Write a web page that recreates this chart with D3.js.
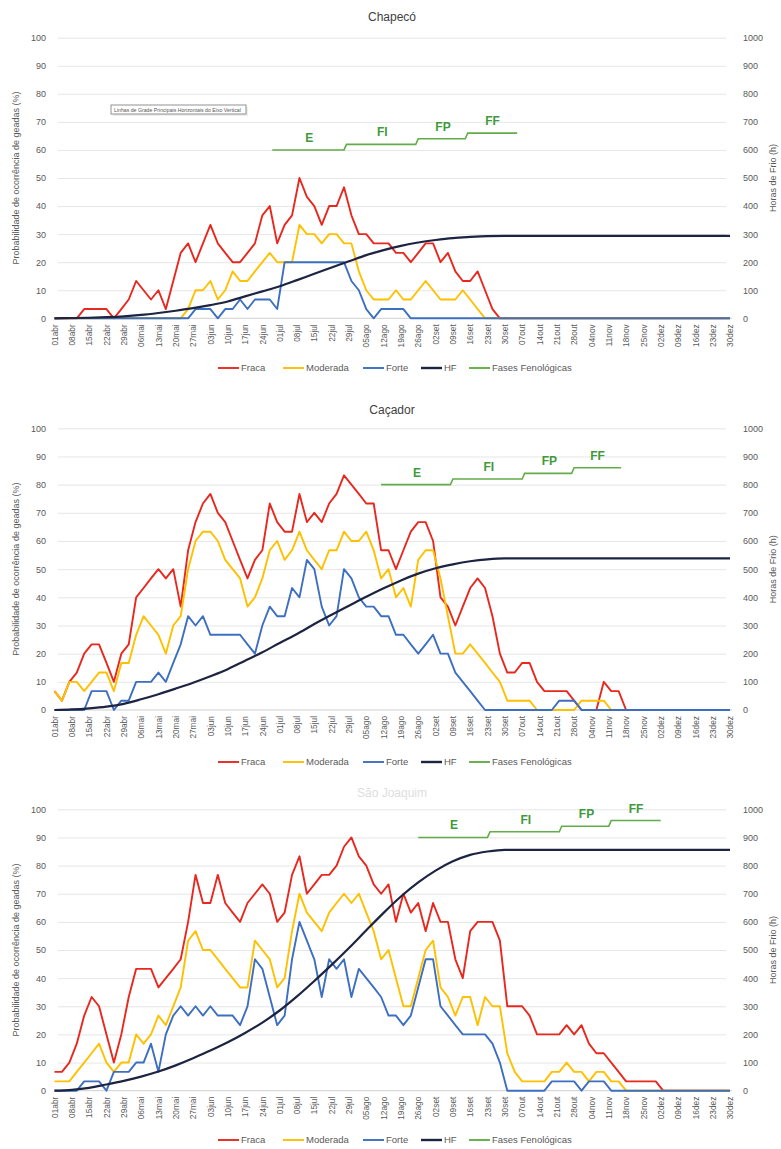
<!DOCTYPE html>
<html><head><meta charset="utf-8">
<script src="https://cdn.jsdelivr.net/npm/d3@7"></script>
<style>body{margin:0;background:#fff;} svg{display:block;font-family:"Liberation Sans",Arial,sans-serif;}</style>
</head><body><svg id="c" width="781" height="1149"></svg>
<script>
// ---------- DATA ----------
const dayLabels = ["01abr","08abr","15abr","22abr","29abr","06mai","13mai","20mai","27mai","03jun","10jun","17jun","24jun","01jul","08jul","15jul","22jul","29jul","05ago","12ago","19ago","26ago","02set","09set","16set","23set","30set","07out","14out","21out","28out","04nov","11nov","18nov","25nov","02dez","09dez","16dez","23dez","30dez"];
const seriesNames = ["Fraca","Moderada","Forte","HF","Fases Fenológicas"];
const phaseLabels = ["E","FI","FP","FF"];
// probabilities (%) sampled every 3 days from 01abr (92 points)
const chapecoFraca = [0,0,0,0,3.3,3.3,3.3,3.3,0,3.3,6.7,13.3,10,6.7,10,3.3,13.3,23.3,26.7,20,26.7,33.3,26.7,23.3,20,20,23.3,26.7,36.7,40,26.7,33.3,36.7,50,43.3,40,33.3,40,40,46.7,36.7,30,30,26.7,26.7,26.7,23.3,23.3,20,23.3,26.7,26.7,20,23.3,16.7,13.3,13.3,16.7,10,3.3,0,0,0,0,0,0,0,0,0,0,0,0,0,0,0,0,0,0,0,0,0,0,0,0,0,0,0,0,0,0,0,0];
const chapecoModerada = [0,0,0,0,0,0,0,0,0,0,0,0,0,0,0,0,0,0,3.3,10,10,13.3,6.7,10,16.7,13.3,13.3,16.7,20,23.3,20,20,20,33.3,30,30,26.7,30,30,26.7,26.7,16.7,10,6.7,6.7,6.7,10,6.7,6.7,10,13.3,10,6.7,6.7,6.7,10,6.7,3.3,0,0,0,0,0,0,0,0,0,0,0,0,0,0,0,0,0,0,0,0,0,0,0,0,0,0,0,0,0,0,0,0,0,0];
const chapecoForte = [0,0,0,0,0,0,0,0,0,0,0,0,0,0,0,0,0,0,0,3.3,3.3,3.3,0,3.3,3.3,6.7,3.3,6.7,6.7,6.7,3.3,20,20,20,20,20,20,20,20,20,13.3,10,3.3,0,3.3,3.3,3.3,3.3,0,0,0,0,0,0,0,0,0,0,0,0,0,0,0,0,0,0,0,0,0,0,0,0,0,0,0,0,0,0,0,0,0,0,0,0,0,0,0,0,0,0,0,0];
const cacadorFraca = [6.7,3.3,10,13.3,20,23.3,23.3,16.7,10,20,23.3,40,43.3,46.7,50,46.7,50,36.7,56.7,66.7,73.3,76.7,70,66.7,60,53.3,46.7,53.3,56.7,73.3,66.7,63.3,63.3,76.7,66.7,70,66.7,73.3,76.7,83.3,80,76.7,73.3,73.3,56.7,56.7,50,56.7,63.3,66.7,66.7,60,40,36.7,30,36.7,43.3,46.7,43.3,33.3,20,13.3,13.3,16.7,16.7,10,6.7,6.7,6.7,6.7,3.3,0,0,0,10,6.7,6.7,0,0,0,0,0,0,0,0,0,0,0,0,0,0,0];
const cacadorModerada = [6.7,3.3,10,10,6.7,10,13.3,13.3,6.7,16.7,16.7,26.7,33.3,30,26.7,20,30,33.3,50,60,63.3,63.3,60,53.3,50,46.7,36.7,40,46.7,56.7,60,53.3,56.7,63.3,56.7,53.3,50,56.7,56.7,63.3,60,60,63.3,56.7,46.7,50,40,43.3,36.7,53.3,56.7,56.7,46.7,33.3,20,20,23.3,20,16.7,13.3,10,3.3,3.3,3.3,3.3,0,0,0,0,0,0,3.3,3.3,3.3,3.3,0,0,0,0,0,0,0,0,0,0,0,0,0,0,0,0,0];
const cacadorForte = [0,0,0,0,0,6.7,6.7,6.7,0,3.3,3.3,10,10,10,13.3,10,16.7,23.3,33.3,30,33.3,26.7,26.7,26.7,26.7,26.7,23.3,20,30,36.7,33.3,33.3,43.3,40,53.3,50,36.7,30,33.3,50,46.7,40,36.7,36.7,33.3,33.3,26.7,26.7,23.3,20,23.3,26.7,20,20,13.3,10,6.7,3.3,0,0,0,0,0,0,0,0,0,0,3.3,3.3,3.3,0,0,0,0,0,0,0,0,0,0,0,0,0,0,0,0,0,0,0,0,0];
const joaquimFraca = [6.7,6.7,10,16.7,26.7,33.3,30,20,10,20,33.3,43.3,43.3,43.3,36.7,40,43.3,46.7,60,76.7,66.7,66.7,76.7,66.7,63.3,60,66.7,70,73.3,70,60,63.3,76.7,83.3,70,73.3,76.7,76.7,80,86.7,90,83.3,80,73.3,70,73.3,60,70,63.3,66.7,56.7,66.7,60,60,46.7,40,56.7,60,60,60,53.3,30,30,30,26.7,20,20,20,20,23.3,20,23.3,16.7,13.3,13.3,10,6.7,3.3,3.3,3.3,3.3,3.3,0,0,0,0,0,0,0,0,0,0];
const joaquimModerada = [3.3,3.3,3.3,6.7,10,13.3,16.7,10,6.7,10,10,20,16.7,20,26.7,23.3,30,36.7,53.3,56.7,50,50,46.7,43.3,40,36.7,36.7,53.3,50,46.7,36.7,40,56.7,70,63.3,60,56.7,63.3,66.7,70,66.7,70,63.3,56.7,46.7,50,40,30,30,40,50,53.3,36.7,33.3,26.7,33.3,33.3,23.3,33.3,30,30,13.3,6.7,3.3,3.3,3.3,3.3,6.7,6.7,10,6.7,6.7,3.3,6.7,6.7,3.3,3.3,0,0,0,0,0,0,0,0,0,0,0,0,0,0,0];
const joaquimForte = [0,0,0,0,3.3,3.3,3.3,0,6.7,6.7,6.7,10,10,16.7,6.7,20,26.7,30,26.7,30,26.7,30,26.7,26.7,26.7,23.3,30,46.7,43.3,33.3,23.3,26.7,46.7,60,53.3,46.7,33.3,46.7,43.3,46.7,33.3,43.3,40,36.7,33.3,26.7,26.7,23.3,26.7,36.7,46.7,46.7,30,26.7,23.3,20,20,20,20,16.7,10,0,0,0,0,0,0,3.3,3.3,3.3,3.3,0,3.3,3.3,3.3,0,0,0,0,0,0,0,0,0,0,0,0,0,0,0,0,0];
// chill hours (h), weekly from 01abr (40 points)
const hfChapeco = [0,1,2,4,7,12,19,27,36,47,60,78,96,114,136,159,181,203,225,243,258,270,279,286,290,293,294,294,294,294,294,294,294,294,294,294,294,294,294,294];
const hfCacador = [0,2,6,12,22,38,56,76,97,120,145,175,205,238,270,305,338,370,402,432,460,484,503,517,528,535,538,538,538,538,538,538,538,538,538,538,538,538,538,538];
const hfJoaquim = [0,3,10,22,35,50,68,90,115,143,172,205,242,285,335,390,447,507,570,632,690,740,782,815,838,850,856,856,856,856,856,856,856,856,856,856,856,856,856,856];
// phenological phases: start day index (from 01abr) of E, FI, FP, FF and end day; level (%)
const chapecoPhaseStart = [88,118,147,167,187];
const chapecoPhaseLevel = [60,62,64,66];
const cacadorPhaseStart = [132,161,190,210,229];
const cacadorPhaseLevel = [80,82,84,86];
const joaquimPhaseStart = [147,176,205,225,245];
const joaquimPhaseLevel = [90,92,94,96];

// ---------- DRAW ----------
const colors = {fraca:"#e8281e", moderada:"#ffc000", forte:"#3d6fc0", hf:"#1d2442", fase:"#62ad48"};
const svg = d3.select("#c");
const panels = [
  {title:"Chapecó", tcol:"#404040", titleY:21, yTop:37.7, yBot:318.3, legendY:368, f:chapecoFraca, m:chapecoModerada, s:chapecoForte, hf:hfChapeco, ps:chapecoPhaseStart, pl:chapecoPhaseLevel, box:true},
  {title:"Caçador", tcol:"#404040", titleY:414, yTop:428.3, yBot:710, legendY:762, f:cacadorFraca, m:cacadorModerada, s:cacadorForte, hf:hfCacador, ps:cacadorPhaseStart, pl:cacadorPhaseLevel, box:false},
  {title:"São Joaquim", tcol:"#dedede", titleY:797, yTop:809.3, yBot:1090.7, legendY:1140, f:joaquimFraca, m:joaquimModerada, s:joaquimForte, hf:hfJoaquim, ps:joaquimPhaseStart, pl:joaquimPhaseLevel, box:false}
];
const x = d3.scaleLinear().domain([0,273]).range([54.5,730]);

panels.forEach(p => {
  const g = svg.append("g");
  const yL = d3.scaleLinear().domain([0,100]).range([p.yBot,p.yTop]);
  const yR = d3.scaleLinear().domain([0,1000]).range([p.yBot,p.yTop]);

  g.append("text").attr("x",392).attr("y",p.titleY).attr("text-anchor","middle")
    .attr("font-size",12).attr("fill",p.tcol).text(p.title);

  // gridlines
  const grid = g.append("g").attr("transform","translate(726,0)")
    .call(d3.axisLeft(yL).tickValues(d3.range(10,101,10)).tickSize(668).tickFormat(""));
  grid.select(".domain").remove();
  grid.selectAll("line").attr("stroke","#e0e0e0").attr("stroke-width",0.8);
  g.append("line").attr("x1",54).attr("x2",732).attr("y1",yL(0)).attr("y2",yL(0)).attr("stroke","#cfcfcf");

  // left axis
  const la = g.append("g").attr("transform","translate(46,0)")
    .call(d3.axisLeft(yL).tickValues(d3.range(0,101,10)).tickSize(0).tickPadding(0).tickFormat(d3.format("d")));
  la.select(".domain").remove();
  la.selectAll("text").attr("font-size",9).attr("fill","#595959").attr("font-family","Liberation Sans, Arial");
  // right axis
  const ra = g.append("g").attr("transform","translate(743,0)")
    .call(d3.axisRight(yR).tickValues(d3.range(0,1001,100)).tickSize(0).tickPadding(0).tickFormat(d3.format("d")));
  ra.select(".domain").remove();
  ra.selectAll("text").attr("font-size",9).attr("fill","#595959").attr("font-family","Liberation Sans, Arial");
  // x axis
  const xa = g.append("g").attr("transform",`translate(0,${p.yBot+4})`)
    .call(d3.axisBottom(x).tickValues(d3.range(0,274,7)).tickFormat((d,i)=>dayLabels[i]).tickSize(0));
  xa.select(".domain").remove();
  xa.selectAll("text").attr("y",0).attr("x",-2).attr("dy","0.32em")
    .attr("transform","rotate(-90)").style("text-anchor","end")
    .attr("font-size",8.3).attr("fill","#595959").attr("font-family","Liberation Sans, Arial");

  // axis titles
  const mid = (p.yTop+p.yBot)/2;
  g.append("text").attr("transform",`translate(19,${mid}) rotate(-90)`).attr("text-anchor","middle")
    .attr("font-size",9).attr("fill","#595959").text("Probabilidade de ocorrência de geadas (%)");
  g.append("text").attr("transform",`translate(776,${mid}) rotate(-90)`).attr("text-anchor","middle")
    .attr("font-size",9).attr("fill","#595959").text("Horas de Frio (h)");

  // series
  const lineP = d3.line().x((d,i)=>x(i*3)).y(d=>yL(d));
  [[p.f,colors.fraca],[p.m,colors.moderada],[p.s,colors.forte]].forEach(([arr,c])=>{
    g.append("path").datum(arr).attr("d",lineP).attr("fill","none").attr("stroke",c)
      .attr("stroke-width",1.9).attr("stroke-linejoin","round");
  });
  const lineH = d3.line().x((d,i)=>x(i*7)).y(d=>yR(d)).curve(d3.curveMonotoneX);
  g.append("path").datum(p.hf).attr("d",lineH).attr("fill","none").attr("stroke",colors.hf).attr("stroke-width",2.2);

  // phases
  const pts = [];
  for (let j=0;j<4;j++){
    pts.push([p.ps[j], p.pl[j]]);
    pts.push([j<3 ? p.ps[j+1]-1 : p.ps[4], p.pl[j]]);
  }
  g.append("path").datum(pts).attr("d", d3.line().x(d=>x(d[0])).y(d=>yL(d[1])))
    .attr("fill","none").attr("stroke",colors.fase).attr("stroke-width",1.6);
  phaseLabels.forEach((lab,j)=>{
    const cx = x((p.ps[j]+p.ps[j+1])/2);
    g.append("text").attr("x",cx).attr("y",yL(p.pl[j])-8).attr("text-anchor","middle")
      .attr("font-size",12).attr("font-weight","bold").attr("fill","#3f9a3a").text(lab);
  });

  // legend
  const items = [[seriesNames[0],colors.fraca,218],[seriesNames[1],colors.moderada,283],[seriesNames[2],colors.forte,363],[seriesNames[3],colors.hf,421],[seriesNames[4],colors.fase,469]];
  items.forEach(([name,c,lx])=>{
    g.append("line").attr("x1",lx).attr("x2",lx+21).attr("y1",p.legendY).attr("y2",p.legendY)
      .attr("stroke",c).attr("stroke-width",name==="HF"?2.4:1.9);
    g.append("text").attr("x",lx+23).attr("y",p.legendY+3.2).attr("font-size",9.5).attr("fill","#595959").text(name);
  });

  if (p.box){
    g.append("rect").attr("x",113).attr("y",107).attr("width",135).attr("height",9).attr("fill","#eee");
    g.append("rect").attr("x",111).attr("y",105).attr("width",135).attr("height",9).attr("fill","#fff").attr("stroke","#777").attr("stroke-width",0.8);
    g.append("text").attr("x",114).attr("y",111.6).attr("font-size",5.2).attr("fill","#555")
      .text("Linhas de Grade Principais Horizontais do Eixo Vertical");
  }
});
</script>
</body></html>
